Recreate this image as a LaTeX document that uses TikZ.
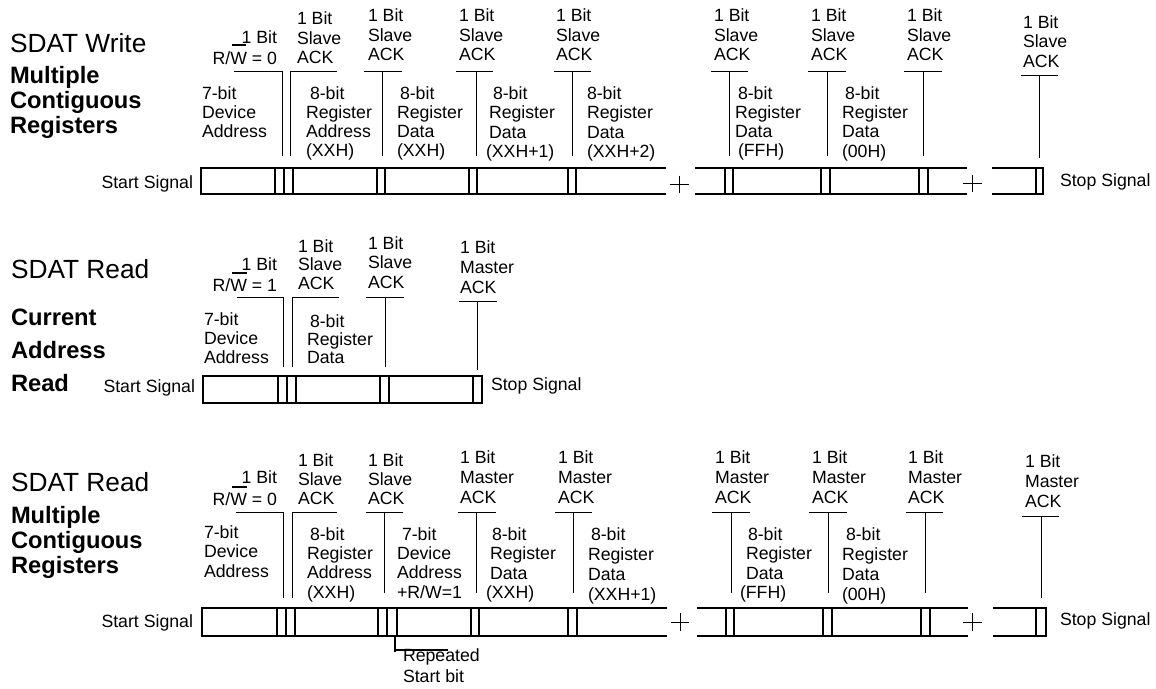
\documentclass[tikz,border=0pt]{standalone}
\usepackage{fontspec}
\setmainfont{Liberation Sans}
\tikzset{
  lab/.style={font=\fontsize{17.7}{19}\selectfont, inner sep=0pt, outer sep=0pt},
  ttl/.style={font=\fontsize{26.3}{28}\selectfont, inner sep=0pt, outer sep=0pt},
  btl/.style={font=\fontsize{23.7}{25}\selectfont\bfseries, inner sep=0pt, outer sep=0pt},
  barline/.style={line width=2pt},
  tick/.style={line width=1pt},
  ovl/.style={line width=1.6pt},
}
\newcommand\lbl[5]{%
  \foreach \t [count=\i from 0] in {#5}{%
    \node[lab,anchor=base west] (#1-\i) at ({#2},{#3+#4*\i}) {\t};}}
\newcommand\tickmark[5]{%
  \draw[tick] (#1,#4) -- (#2,#4);
  \draw[tick] (#3,#4) -- (#3,#5);}
\begin{document}
\begin{tikzpicture}[x=1pt,y=-1pt]
\useasboundingbox (0,0) rectangle (1156,688);

% ================= Row 1 : SDAT Write =================
\node[ttl,anchor=base west] (t1) at (10,52.4) {SDAT Write};
\node[btl,anchor=base west] (t1a) at (10,83) {Multiple};
\node[btl,anchor=base west] (t1b) at (10,108) {Contiguous};
\node[btl,anchor=base west] (t1c) at (10,133) {Registers};

\node[lab,anchor=base east] (r1rwa) at (277,43.3) {1 Bit};
\node[lab,anchor=base east] (r1rwb) at (277,64.3) {R/W = 0};
\draw[ovl] (232,45) -- (246,45);

\lbl{r1k1}{297}{24.8}{19.5}{1 Bit,Slave,ACK}
\lbl{r1k2}{368}{21.8}{19.5}{1 Bit,Slave,ACK}
\lbl{r1k3}{459}{21.8}{19.5}{1 Bit,Slave,ACK}
\lbl{r1k4}{556}{21.8}{19.5}{1 Bit,Slave,ACK}
\lbl{r1k5}{714}{21.8}{19.5}{1 Bit,Slave,ACK}
\lbl{r1k6}{811}{21.8}{19.5}{1 Bit,Slave,ACK}
\lbl{r1k7}{907}{21.8}{19.5}{1 Bit,Slave,ACK}
\lbl{r1k8}{1023}{28.3}{19.5}{1 Bit,Slave,ACK}

\lbl{r1d1}{202}{99.3}{19}{7-bit,Device,Address}
\lbl{r1d2}{306}{99.3}{19}{\hspace{4pt}8-bit,Register,Address,(XXH)}
\lbl{r1d3}{397}{99.3}{19}{\hspace{3pt}8-bit,Register,Data,(XXH)}
\lbl{r1d4}{489}{99.3}{19.5}{\hspace{4pt}8-bit,Register,Data,\hspace{-3pt}(XXH+1)}
\lbl{r1d5}{587}{99.3}{19.5}{8-bit,Register,Data,(XXH+2)}
\lbl{r1d6}{735}{99.3}{19}{\hspace{3pt}8-bit,Register,Data,\hspace{3pt}(FFH)}
\lbl{r1d7}{842}{99.3}{19.3}{\hspace{3pt}8-bit,Register,Data,(00H)}

\tickmark{234}{282}{282}{71}{156}
\tickmark{290}{337}{290}{71}{156}
\tickmark{364}{402}{382}{71}{156}
\tickmark{456}{493}{476}{71}{156}
\tickmark{554}{591}{572}{71}{156}
\tickmark{711}{748}{729}{71}{156}
\tickmark{808}{846}{827}{71}{156}
\tickmark{904}{942}{923}{71}{156}
\tickmark{1021}{1058}{1039}{75}{158}

\node[lab,anchor=base east] (start1) at (193,188.3) {Start Signal};
\node[lab,anchor=base west] (stop1) at (1060,186.3) {Stop Signal};

\draw[barline] (666,168) -- (201,168) -- (201,194) -- (666,194);
\foreach \x in {275,284,293,377,385,469,477,568,576} \draw[barline] (\x,168) -- (\x,194);
\draw[barline] (695,168) -- (967,168) (695,194) -- (967,194);
\foreach \x in {725,733,821,830,919,928} \draw[barline] (\x,168) -- (\x,194);
\draw[barline] (992,168) -- (1043,168) -- (1043,194) -- (992,194);
\draw[barline] (1036,168) -- (1036,194);
\draw[tick] (669.5,184) -- (688.5,184) (679,175.5) -- (679,192.5);
\draw[tick] (962.5,183) -- (981.5,183) (972,174.5) -- (972,191.5);

% ================= Row 2 : SDAT Read current =================
\node[ttl,anchor=base west] (t2) at (11,278.4) {SDAT Read};
\node[btl,anchor=base west] (t2a) at (11,325.5) {Current};
\node[btl,anchor=base west] (t2b) at (11,358.5) {Address};
\node[btl,anchor=base west] (t2c) at (11,391.5) {Read};

\node[lab,anchor=base east] (r2rwa) at (277,270.3) {1 Bit};
\node[lab,anchor=base east] (r2rwb) at (277,291.3) {R/W = 1};
\draw[ovl] (232,273) -- (247,273);

\lbl{r2k1}{298}{252.3}{18.5}{1 Bit,Slave,ACK}
\lbl{r2k2}{368}{249.3}{19.5}{1 Bit,Slave,ACK}
\lbl{r2k3}{460}{253.3}{20}{1 Bit,Master,ACK}
\lbl{r2d1}{204}{325.3}{19}{7-bit,Device,Address}
\lbl{r2d2}{307}{327.3}{18}{\hspace{3pt}8-bit,Register,Data}

\tickmark{237}{283}{283}{297}{367}
\tickmark{292}{339}{292}{297}{367}
\tickmark{366}{404}{385}{297}{367}
\tickmark{459}{497}{477}{301}{370}

\node[lab,anchor=base east] (start2) at (195,392.3) {Start Signal};
\node[lab,anchor=base west] (stop2) at (491,390.3) {Stop Signal};

\draw[barline] (203,376) rectangle (482,403);
\foreach \x in {278,287,296,380,389,473} \draw[barline] (\x,376) -- (\x,403);

% ================= Row 3 : SDAT Read multiple =================
\node[ttl,anchor=base west] (t3) at (11,491.4) {SDAT Read};
\node[btl,anchor=base west] (t3a) at (11,523) {Multiple};
\node[btl,anchor=base west] (t3b) at (11,548) {Contiguous};
\node[btl,anchor=base west] (t3c) at (11,573) {Registers};

\node[lab,anchor=base east] (r3rwa) at (277,483.3) {1 Bit};
\node[lab,anchor=base east] (r3rwb) at (277,505.3) {R/W = 0};
\draw[ovl] (232,487) -- (247,487);

\lbl{r3k1}{298}{466.3}{19}{1 Bit,Slave,ACK}
\lbl{r3k2}{368}{466.3}{19}{1 Bit,Slave,ACK}
\lbl{r3k3}{460}{463.3}{20}{1 Bit,Master,ACK}
\lbl{r3k4}{558}{463.3}{20}{1 Bit,Master,ACK}
\lbl{r3k5}{715}{463.3}{20}{1 Bit,Master,ACK}
\lbl{r3k6}{812}{463.3}{20}{1 Bit,Master,ACK}
\lbl{r3k7}{908}{463.3}{20}{1 Bit,Master,ACK}
\lbl{r3k8}{1025}{467.3}{20}{1 Bit,Master,ACK}

\lbl{r3d1}{204}{538.3}{19.5}{7-bit,Device,Address}
\lbl{r3d2}{307}{540.3}{19.3}{\hspace{3pt}8-bit,Register,Address,(XXH)}
\lbl{r3d3}{397}{540.3}{19.3}{\hspace{5pt}7-bit,Device,Address,+R/W=1}
\lbl{r3d4}{490}{540.3}{19.5}{\hspace{2pt}8-bit,Register,Data,\hspace{-4pt}(XXH)}
\lbl{r3d5}{588}{540.3}{20}{\hspace{3pt}8-bit,Register,Data,(XXH+1)}
\lbl{r3d6}{746}{540.3}{19.5}{\hspace{2pt}8-bit,Register,Data,\hspace{-6pt}(FFH)}
\lbl{r3d7}{842}{540.3}{20}{\hspace{4pt}8-bit,Register,Data,(00H)}
\lbl{r3rep}{403}{661.3}{21.5}{Repeated,Start bit}

\tickmark{236}{283}{283}{512}{598}
\tickmark{292}{337}{292}{512}{598}
\tickmark{366}{403}{384}{512}{593}
\tickmark{458}{496}{476}{512}{593}
\tickmark{555}{592}{573}{512}{593}
\tickmark{712}{750}{731}{512}{593}
\tickmark{809}{847}{828}{512}{593}
\tickmark{906}{943}{925}{512}{593}
\tickmark{1022}{1059}{1041}{516}{598}

\node[lab,anchor=base east] (start3) at (193,627.3) {Start Signal};
\node[lab,anchor=base west] (stop3) at (1060,625.3) {Stop Signal};

\draw[barline] (667,608) -- (202,608) -- (202,636) -- (667,636);
\foreach \x in {277,286,295,378,387,397,471,479,568,577} \draw[barline] (\x,608) -- (\x,636);
\draw[barline] (697,608) -- (968,608) (697,636) -- (968,636);
\foreach \x in {726,734,823,832,921,930} \draw[barline] (\x,608) -- (\x,636);
\draw[barline] (993,608) -- (1046,608) -- (1046,636) -- (993,636);
\draw[barline] (1036,608) -- (1036,636);
\draw[tick] (671,622) -- (689,622) (680,613) -- (680,631);
\draw[tick] (962.5,622) -- (981.5,622) (972,613) -- (972,631);

% repeated start callout
\coordinate (repA) at (395,636);
\coordinate (repB) at (395,652);
\coordinate (repC) at (395,650);
\coordinate (repD) at (448,650);
\draw[ovl] (repA) -- (repB);
\draw[ovl] (repC) -- (repD);
\end{tikzpicture}
\end{document}
